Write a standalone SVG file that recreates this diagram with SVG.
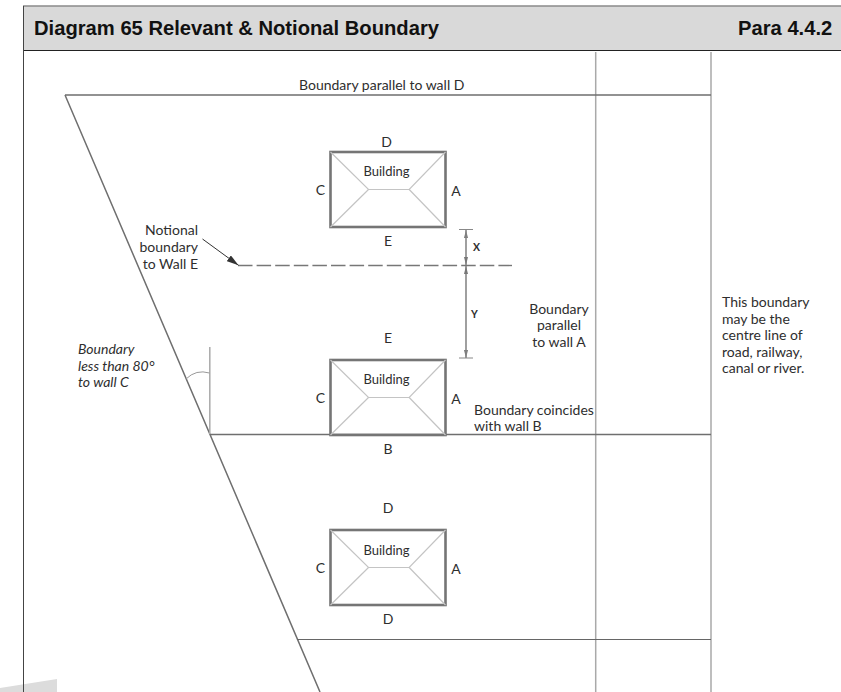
<svg xmlns="http://www.w3.org/2000/svg" width="841" height="692" viewBox="0 0 841 692">
<style>
.t{font-family:"Lato","Open Sans","Liberation Sans",sans-serif;font-size:14px;fill:#2e2e2e}
.n{font-size:13px}
.i{font-style:italic}
.m{text-anchor:middle}
.e{text-anchor:end}
.h{font-family:"Liberation Sans",Arial,sans-serif;font-size:20.200px;font-weight:bold;fill:#111}
.b{fill:none;stroke:#6f6f6f;stroke-width:1.5}
.g{fill:none;stroke:#a9a9a9;stroke-width:1.5}
.w{fill:none;stroke:#757575;stroke-width:2.6}
.r{fill:none;stroke:#c4c4c4;stroke-width:1.2}
.d{fill:none;stroke:#888;stroke-width:1.1}
</style>
<defs>
<marker id="a" viewBox="0 0 12 7" refX="12" refY="3.500" markerWidth="12" markerHeight="7" markerUnits="userSpaceOnUse" orient="auto"><path d="M0 0L12 3.500L0 7z" fill="#333"/></marker>
<marker id="s" viewBox="0 0 8 4" refX="8" refY="2" markerWidth="8" markerHeight="4" markerUnits="userSpaceOnUse" orient="auto"><path d="M0 0L8 2L0 4z" fill="#777"/></marker>
<g id="roof">
<rect class="w" x="0" y="0" width="115" height="75"/>
<path class="r" d="M0 0L38 37.500H78.700L115 0M0 75L38 37.500M78.700 37.500L115 75"/>
</g>
</defs>
<rect width="841" height="692" fill="#fff"/>
<polygon points="0,688 57,679 57,692 0,692" fill="#dcdcdc"/>
<g id="frame">
<rect x="23.500" y="6" width="818" height="44" fill="#d9d9d9"/>
<path d="M23 6H841" stroke="#8a8a8a" stroke-width="1.500" fill="none"/>
<path d="M23 50.500H841" stroke="#222" stroke-width="1.200" fill="none"/>
<path d="M23.500 6V692" stroke="#444" stroke-width="1" fill="none"/>
<text class="h" x="34" y="35">Diagram 65 Relevant &amp; Notional Boundary</text>
<text class="h" x="738" y="35">Para 4.4.2</text>
</g>
<g id="connectors">
<path class="g" d="M595.700 52V692M711 52V692"/>
<path class="b" d="M65 95H711M65 95L320 692M210 434.500H711"/>
<path d="M297 639.500H711" stroke="#666" stroke-width="1.100" fill="none"/>
<path class="g" d="M209.800 347V434"/>
<path d="M186 379Q196 369 209.500 373" fill="none" stroke="#999" stroke-width="1"/>
<path d="M238 265.500H512" fill="none" stroke="#777" stroke-width="1.400" stroke-dasharray="14.500 4.100"/>
<path d="M202.500 239L238.500 265.300" fill="none" stroke="#333" stroke-width="1" marker-end="url(#a)"/>
<path class="d" d="M459 229.500H473M459 358H473"/>
<path class="d" d="M466 265V230" marker-end="url(#s)"/>
<path class="d" d="M466 230V265" marker-end="url(#s)"/>
<path class="d" d="M466 266V358" marker-end="url(#s)"/>
<path class="d" d="M466 358V266" marker-end="url(#s)"/>
</g>
<g id="building-1">
<use href="#roof" x="330.500" y="152"/>
<text class="t m n" x="386.500" y="176">Building</text>
<text class="t m" x="386.500" y="147">D</text>
<text class="t m" x="320.500" y="195">C</text>
<text class="t m" x="456" y="196">A</text>
<text class="t m" x="388" y="246">E</text>
</g>
<g id="building-2">
<use href="#roof" x="330.500" y="360"/>
<text class="t m n" x="386.500" y="384">Building</text>
<text class="t m" x="388" y="343">E</text>
<text class="t m" x="320.500" y="403">C</text>
<text class="t m" x="456" y="404">A</text>
<text class="t m" x="388" y="454">B</text>
</g>
<g id="building-3">
<use href="#roof" x="330.500" y="530"/>
<text class="t m n" x="386.500" y="555">Building</text>
<text class="t m" x="388" y="513">D</text>
<text class="t m" x="320.500" y="573">C</text>
<text class="t m" x="456" y="574">A</text>
<text class="t m" x="388" y="624">D</text>
</g>
<g id="labels">
<text class="t" x="299" y="90">Boundary parallel to wall D</text>
<text class="t e" x="198" y="235">Notional</text>
<text class="t e" x="198" y="252">boundary</text>
<text class="t e" x="198" y="269">to Wall E</text>
<text class="t" x="473" y="251" style="font-weight:bold;font-size:10.500px">X</text>
<text class="t" x="471" y="318" style="font-weight:bold;font-size:10.500px">Y</text>
<text class="t m" x="559" y="314">Boundary</text>
<text class="t m" x="559" y="330">parallel</text>
<text class="t m" x="559" y="347">to wall A</text>
<text class="t" x="474" y="415">Boundary coincides</text>
<text class="t" x="474" y="431">with wall B</text>
<text class="t" x="722" y="307">This boundary</text>
<text class="t" x="722" y="324">may be the</text>
<text class="t" x="722" y="340">centre line of</text>
<text class="t" x="722" y="357">road, railway,</text>
<text class="t" x="722" y="373">canal or river.</text>
<text class="t i" x="78" y="354">Boundary</text>
<text class="t i" x="78" y="371">less than 80°</text>
<text class="t i" x="78" y="387">to wall C</text>
</g>
</svg>
